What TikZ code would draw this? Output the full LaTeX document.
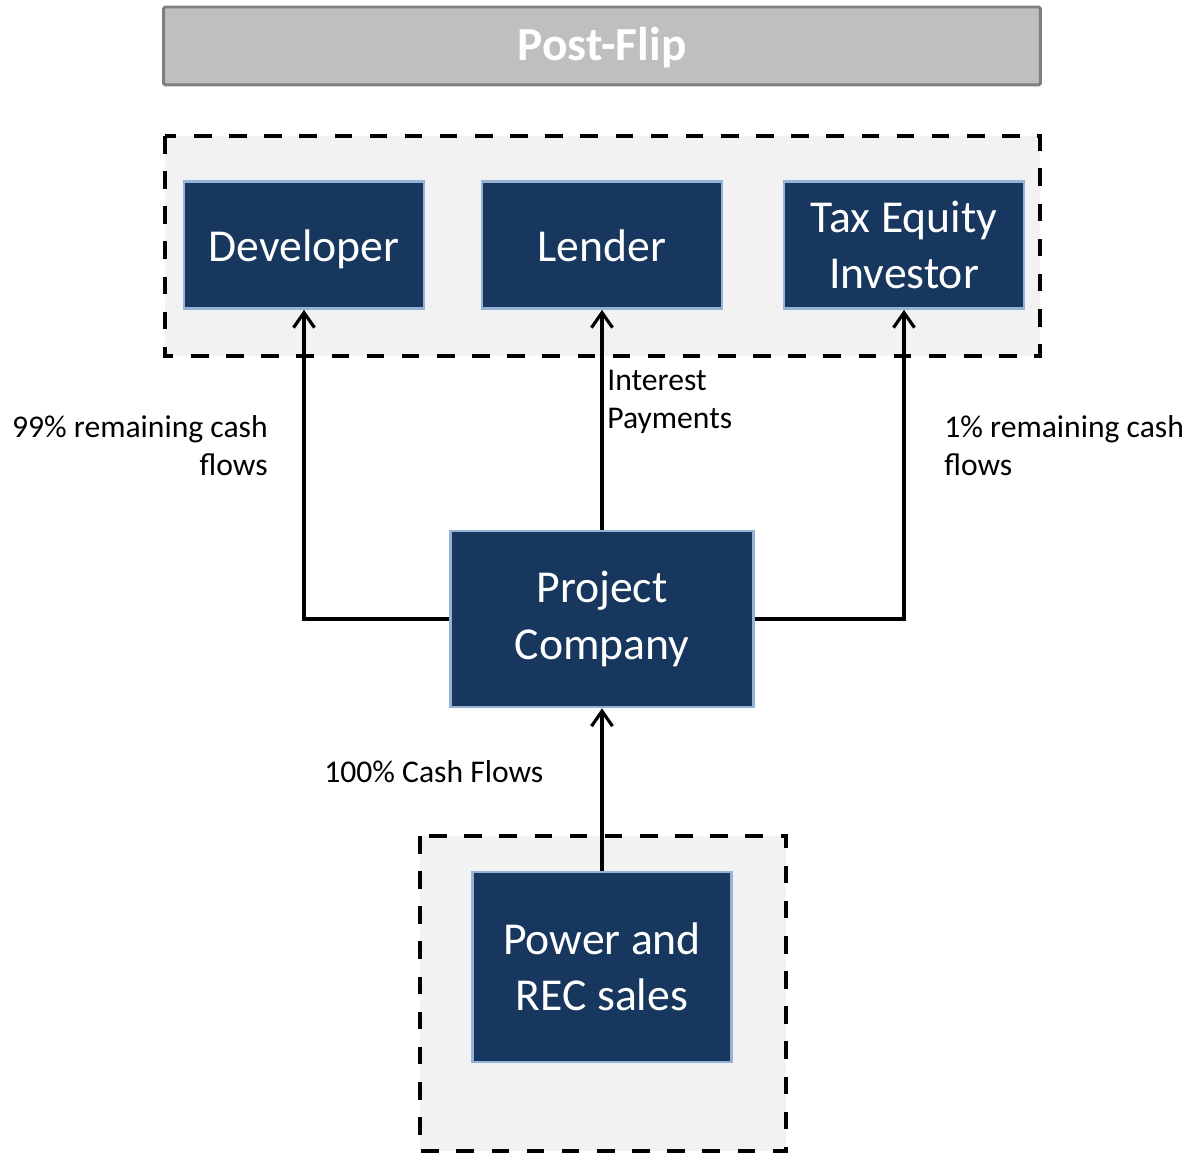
\documentclass[tikz,border=0pt]{standalone}
\usepackage{fontspec}
\setmainfont{Carlito}
\usetikzlibrary{arrows.meta}
\definecolor{navy}{HTML}{17375E}
\definecolor{paleblue}{HTML}{95B3D7}
\definecolor{panel}{HTML}{F2F2F2}
\definecolor{bar}{HTML}{BFBFBF}
\definecolor{baredge}{HTML}{7F7F7F}
\tikzset{
  party/.style={draw=paleblue, fill=navy, line width=1.6pt, text=white,
    inner sep=0pt, font=\fontsize{26}{32}\selectfont},
  oneline/.style={text height=19.2pt, text depth=0pt},
  twolines/.style={align=center},
  groupbox/.style={draw=black, fill=panel, line width=2.3pt,
    dash pattern=on 10pt off 10pt},
  flow/.style={-{Straight Barb[length=3mm,width=4.2mm]}, line width=1.8pt},
  note/.style={inner sep=0pt, font=\fontsize{18}{21.5}\selectfont}
}
\begin{document}
\begin{tikzpicture}[x=0.02cm, y=-0.02cm]
  \useasboundingbox (0,0) rectangle (1188,1155);

  % Title bar
  \node[draw=baredge, fill=bar, line width=1.7pt, rounded corners=1pt,
    minimum width=17.54cm, minimum height=1.56cm, text=white,
    text height=17pt, text depth=0pt,
    font=\fontsize{27}{32}\selectfont\bfseries] (title) at (602,46) {Post-Flip};

  % Dashed groups
  \draw[groupbox] (165,136) rectangle (1040,356);
  \draw[groupbox] (420,836) rectangle (786,1151);

  % Parties
  \node[party, oneline, minimum width=4.8cm, minimum height=2.54cm] (dev) at (304,245) {Developer};
  \node[party, oneline, minimum width=4.8cm, minimum height=2.54cm] (lender) at (602,245) {Lender};
  \node[party, twolines, minimum width=4.8cm, minimum height=2.54cm] (tei) at (904,245) {Tax Equity\\Investor};
  \node[party, twolines, minimum width=6.06cm, minimum height=3.52cm] (pc) at (602,619) {Project\\Company};
  \node[party, twolines, minimum width=5.18cm, minimum height=3.8cm] (sales) at (602,967) {Power and\\REC sales};

  % Cash flows
  \draw[flow] (pc.west) -| (dev.south);
  \draw[flow] (pc.north) -- (lender.south);
  \draw[flow] (pc.east) -| (tei.south);
  \draw[flow] (sales.north) -- (pc.south);

  % Labels
  \node[note, anchor=north east, align=right] (ldev) at (268,415) {99\% remaining cash\\flows};
  \node[note, anchor=north west, align=left] (llender) at (607,370) {Interest\\Payments};
  \node[note, anchor=north west, align=left] (ltei) at (944,415) {1\% remaining cash\\flows};
  \node[note, anchor=north west] (lsales) at (324,760) {100\% Cash Flows};
\end{tikzpicture}
\end{document}
